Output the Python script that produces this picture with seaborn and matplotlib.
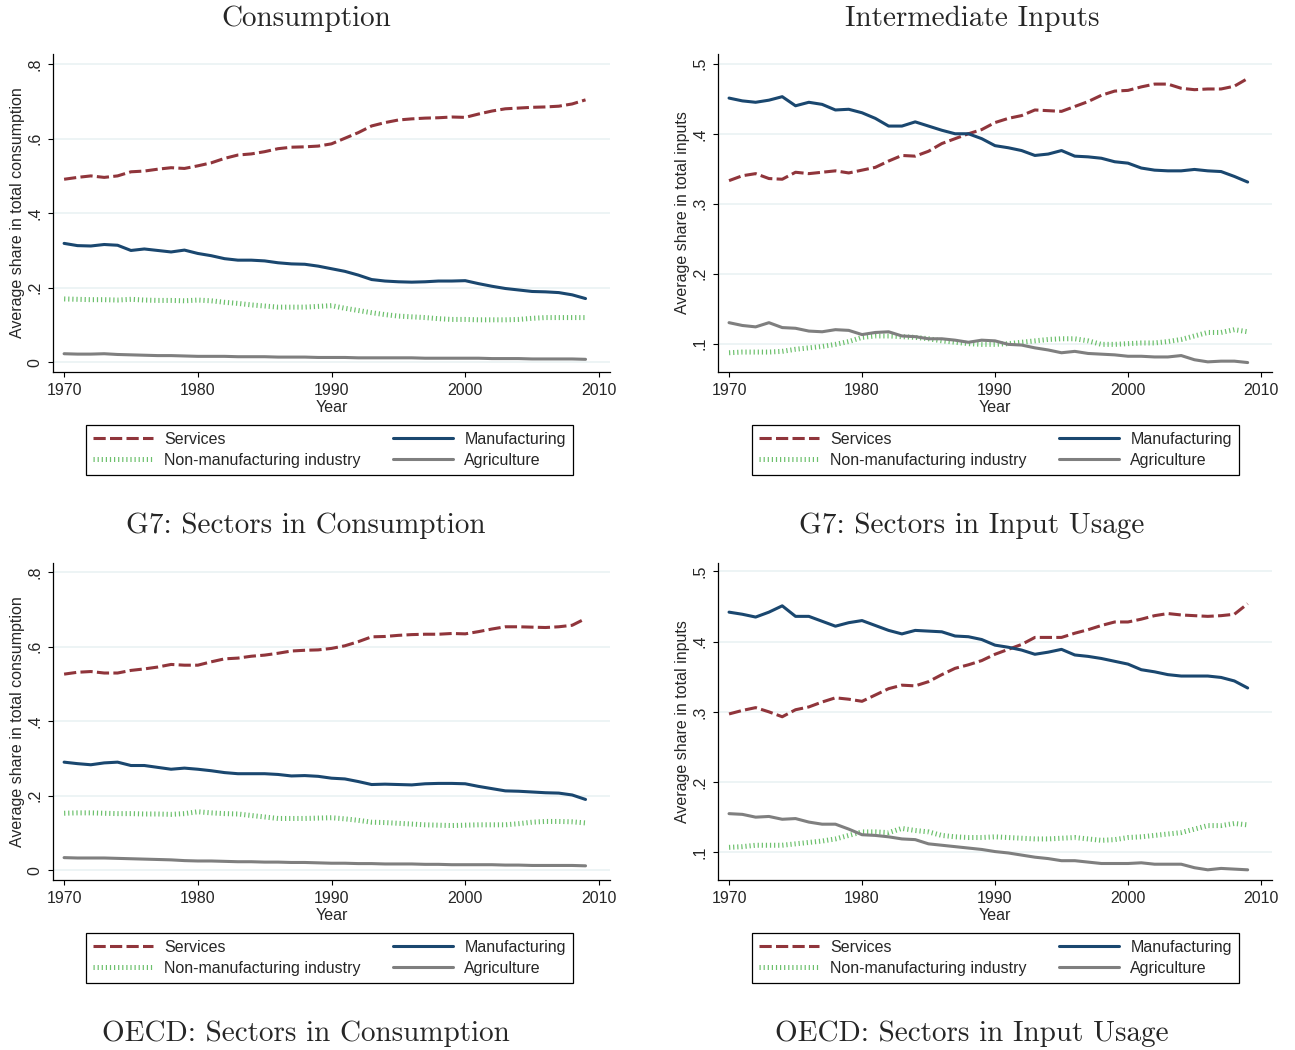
import numpy as np
import pandas as pd
import matplotlib
matplotlib.use("Agg")
import matplotlib.pyplot as plt
from matplotlib.lines import Line2D
import seaborn as sns

# ---------------------------------------------------------------- data
years = list(range(1970, 2010))
sectors = ["Services", "Non-manufacturing industry", "Manufacturing", "Agriculture"]

g7_cons_services = [.491, .496, .500, .496, .500, .511, .513, .518, .522, .520,
                    .527, .535, .547, .556, .559, .565, .573, .577, .578, .580,
                    .586, .601, .616, .634, .643, .650, .653, .655, .656, .658,
                    .657, .666, .674, .680, .682, .684, .685, .687, .693, .704]
g7_cons_manuf = [.319, .313, .312, .316, .314, .300, .304, .300, .296, .301,
                 .292, .286, .278, .274, .274, .272, .267, .264, .263, .258,
                 .251, .244, .234, .222, .218, .216, .215, .216, .218, .218,
                 .219, .211, .204, .198, .194, .190, .189, .187, .181, .171]
g7_cons_nonman = [.170, .169, .168, .168, .167, .169, .167, .166, .166, .165,
                  .167, .165, .161, .158, .154, .151, .148, .148, .148, .150,
                  .152, .145, .139, .133, .128, .124, .122, .120, .117, .115,
                  .115, .114, .114, .114, .115, .118, .120, .120, .120, .120]
g7_cons_agri = [.023, .022, .022, .023, .021, .020, .019, .018, .018, .017,
                .016, .016, .016, .015, .015, .015, .014, .014, .014, .013,
                .013, .013, .012, .012, .012, .012, .012, .011, .011, .011,
                .011, .011, .010, .010, .010, .009, .009, .009, .009, .008]

g7_inp_services = [.333, .340, .343, .336, .335, .345, .343, .345, .347, .344,
                   .348, .352, .361, .369, .368, .375, .386, .393, .400, .406,
                   .416, .422, .426, .434, .433, .432, .439, .446, .455, .461,
                   .462, .467, .471, .471, .465, .463, .464, .464, .468, .479]
g7_inp_manuf = [.451, .447, .445, .448, .453, .440, .445, .442, .434, .435,
                .430, .422, .411, .411, .417, .411, .405, .400, .400, .393,
                .383, .380, .376, .369, .371, .376, .368, .367, .365, .360,
                .358, .351, .348, .347, .347, .349, .347, .346, .339, .331]
g7_inp_nonman = [.087, .088, .088, .088, .089, .092, .094, .096, .099, .103,
                 .109, .111, .111, .110, .109, .107, .104, .102, .100, .099,
                 .099, .100, .102, .104, .106, .107, .107, .104, .099, .099,
                 .100, .101, .101, .103, .106, .111, .116, .116, .120, .117]
g7_inp_agri = [.130, .126, .124, .130, .123, .122, .118, .117, .120, .119,
               .113, .116, .117, .111, .110, .107, .107, .105, .102, .105,
               .104, .099, .098, .094, .091, .087, .089, .086, .085, .084,
               .082, .082, .081, .081, .083, .077, .074, .075, .075, .073]

oecd_cons_services = [.526, .531, .533, .529, .529, .536, .540, .545, .552, .550,
                      .550, .559, .567, .569, .574, .577, .582, .588, .590, .591,
                      .595, .602, .613, .626, .627, .630, .632, .633, .633, .635,
                      .634, .640, .647, .653, .653, .652, .651, .653, .657, .675]
oecd_cons_manuf = [.290, .286, .283, .288, .290, .281, .281, .276, .271, .274,
                   .271, .267, .262, .259, .259, .259, .257, .253, .254, .252,
                   .247, .245, .238, .230, .231, .230, .229, .232, .233, .233,
                   .232, .225, .219, .213, .212, .210, .208, .207, .202, .190]
oecd_cons_nonman = [.153, .154, .154, .153, .152, .152, .151, .151, .150, .152,
                    .157, .154, .152, .151, .147, .143, .139, .139, .139, .140,
                    .141, .138, .134, .129, .128, .126, .124, .122, .121, .120,
                    .121, .122, .122, .122, .125, .129, .131, .131, .130, .127]
oecd_cons_agri = [.034, .033, .033, .033, .032, .031, .030, .029, .028, .026,
                  .025, .025, .024, .023, .023, .022, .022, .021, .021, .020,
                  .019, .019, .018, .018, .017, .017, .017, .016, .016, .015,
                  .015, .015, .015, .014, .014, .013, .013, .013, .013, .012]

oecd_inp_services = [.297, .302, .306, .300, .293, .303, .307, .314, .320, .318,
                     .315, .324, .333, .338, .337, .343, .353, .362, .367, .373,
                     .382, .389, .396, .406, .406, .406, .412, .417, .423, .428,
                     .428, .432, .437, .440, .438, .437, .436, .437, .439, .454]
oecd_inp_manuf = [.442, .439, .435, .442, .451, .436, .436, .429, .422, .427,
                  .430, .423, .416, .411, .416, .415, .414, .408, .407, .403,
                  .395, .392, .388, .382, .385, .389, .381, .379, .376, .372,
                  .368, .360, .357, .353, .351, .351, .351, .349, .344, .334]
oecd_inp_nonman = [.107, .108, .110, .110, .110, .112, .114, .116, .119, .124,
                   .129, .129, .128, .134, .131, .129, .124, .122, .121, .121,
                   .122, .121, .120, .119, .119, .120, .121, .119, .117, .118,
                   .121, .122, .124, .126, .128, .133, .138, .138, .141, .139]
oecd_inp_agri = [.155, .154, .150, .151, .147, .148, .143, .140, .140, .133,
                 .125, .124, .122, .119, .118, .112, .110, .108, .106, .104,
                 .101, .099, .096, .093, .091, .088, .088, .086, .084, .084,
                 .084, .085, .083, .083, .083, .078, .075, .077, .076, .075]

xticks = [1970, 1980, 1990, 2000, 2010]
cons_yticks = [0, .2, .4, .6, .8]
cons_yticklabels = ["0", ".2", ".4", ".6", ".8"]
inp_yticks = [.1, .2, .3, .4, .5]
inp_yticklabels = [".1", ".2", ".3", ".4", ".5"]

column_titles = ["Consumption", "Intermediate Inputs"]
captions = ["G7: Sectors in Consumption", "G7: Sectors in Input Usage",
            "OECD: Sectors in Consumption", "OECD: Sectors in Input Usage"]
cons_ylabel = "Average share in total consumption"
inp_ylabel = "Average share in total inputs"

# ---------------------------------------------------------------- style
sns.set_style("ticks")
plt.rcParams["font.family"] = ["Liberation Sans", "DejaVu Sans"]
SERIF = "cmr10"

palette = {"Services": "#90353b", "Non-manufacturing industry": "#6cc06c",
           "Manufacturing": "#1a476f", "Agriculture": "#7f7f7f"}
LW = 2.2          # line width of the solid and dashed series (pt)
DOT_LW = 3.6      # the dotted series is drawn as short tall ticks
dash_map = {"Services": (4, 1.4), "Non-manufacturing industry": (0.24, 0.58),
            "Manufacturing": "", "Agriculture": ""}
GRID = "#eaf2f3"
FS = 11.5

W, H = 1295, 1050
fig = plt.figure(figsize=(W / 100, H / 100), dpi=100)


def frac(x0, y0, x1, y1):
    return [x0 / W, 1 - y1 / H, (x1 - x0) / W, (y1 - y0) / H]


def long_frame(serv, nonman, manuf, agri):
    rows = []
    for name, vals in zip(sectors, [serv, nonman, manuf, agri]):
        for yr, v in zip(years, vals):
            rows.append({"Year": yr, "share": v, "sector": name})
    return pd.DataFrame(rows)


def style_line(line, sector):
    if sector == "Non-manufacturing industry":
        line.set_linewidth(DOT_LW)
    else:
        line.set_linewidth(LW)
    if dash_map[sector]:
        line.set_dashes(dash_map[sector])
        line.set_dash_capstyle("butt")
    else:
        line.set_linestyle("-")


panels = [
    (frac(53, 54, 610, 372), long_frame(g7_cons_services, g7_cons_nonman, g7_cons_manuf, g7_cons_agri),
     (-0.026, 0.827), cons_yticks, cons_yticklabels, cons_ylabel),
    (frac(718, 54, 1272, 372), long_frame(g7_inp_services, g7_inp_nonman, g7_inp_manuf, g7_inp_agri),
     (0.0595, 0.514), inp_yticks, inp_yticklabels, inp_ylabel),
    (frac(53, 563, 610, 880), long_frame(oecd_cons_services, oecd_cons_nonman, oecd_cons_manuf, oecd_cons_agri),
     (-0.026, 0.824), cons_yticks, cons_yticklabels, cons_ylabel),
    (frac(718, 563, 1272, 880), long_frame(oecd_inp_services, oecd_inp_nonman, oecd_inp_manuf, oecd_inp_agri),
     (0.0605, 0.512), inp_yticks, inp_yticklabels, inp_ylabel),
]

legend_boxes = [(86, 424, 573, 476), (752, 424, 1239, 476),
                (86, 932, 573, 984), (752, 932, 1239, 984)]
caption_pos = [(306, 526), (972, 526), (306, 1034), (972, 1034)]

handles = []
for s in sectors:
    h = Line2D([], [], color=palette[s])
    style_line(h, s)
    handles.append(h)

color_to_sector = {matplotlib.colors.to_hex(palette[s]): s for s in sectors}

for i, (rect, df, ylim, yt, ytl, ylab) in enumerate(panels):
    ax = fig.add_axes(rect)
    for y in yt:
        ax.axhline(y, color=GRID, lw=1.2, zorder=0)
    sns.lineplot(data=df, x="Year", y="share", hue="sector",
                 hue_order=sectors, palette=palette,
                 linewidth=LW, legend=False, ax=ax, zorder=3)
    for line in ax.lines:
        key = matplotlib.colors.to_hex(line.get_color())
        if key in color_to_sector:
            style_line(line, color_to_sector[key])

    ax.set_xlim(1969.17, 2010.83)
    ax.set_ylim(*ylim)
    ax.set_xticks(xticks)
    ax.set_xticklabels([str(t) for t in xticks], fontsize=FS)
    ax.set_yticks(yt)
    ax.set_yticklabels(ytl, fontsize=FS, rotation=90, va="center")
    ax.tick_params(length=3.6, width=0.8, color="black")
    ax.tick_params(axis="x", pad=4)
    ax.tick_params(axis="y", pad=4)
    for side in ["top", "right"]:
        ax.spines[side].set_visible(False)
    for side in ["left", "bottom"]:
        ax.spines[side].set_color("black")
        ax.spines[side].set_linewidth(0.9)
    ax.set_xlabel("Year", fontsize=FS, labelpad=2)
    ax.set_ylabel(ylab, fontsize=FS, labelpad=2)

    x0, y0, x1, y1 = legend_boxes[i]
    leg = fig.legend(handles, sectors, loc="center", ncol=2, mode="expand",
                     bbox_to_anchor=(x0 / W, 1 - y1 / H, (x1 - x0) / W, (y1 - y0) / H),
                     bbox_transform=fig.transFigure, fontsize=FS, borderaxespad=0,
                     handlelength=3.75, handletextpad=0.7, labelspacing=0.38,
                     borderpad=0.45, frameon=True, fancybox=False, framealpha=1)
    leg.get_frame().set_edgecolor("black")
    leg.get_frame().set_linewidth(0.9)

    cx, cy = caption_pos[i]
    fig.text(cx / W, 1 - cy / H, captions[i], family=SERIF, fontsize=21,
             ha="center", va="center")

fig.text(306 / W, 1 - 19 / H, column_titles[0], family=SERIF, fontsize=21,
         ha="center", va="center")
fig.text(972 / W, 1 - 19 / H, column_titles[1], family=SERIF, fontsize=21,
         ha="center", va="center")

fig.savefig("out.png", dpi=100, facecolor="white")
